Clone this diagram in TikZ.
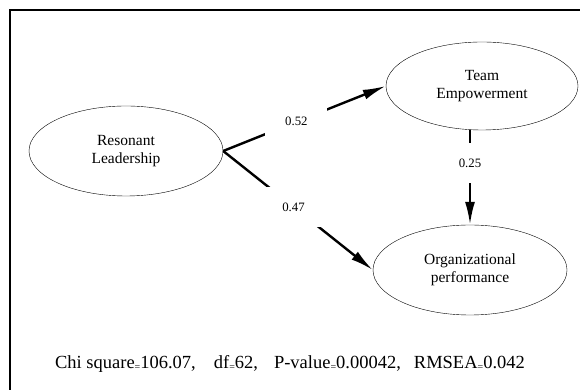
\documentclass[tikz,border=0pt]{standalone}
\usepackage[usenames, dvipsnames]{xcolor}
\usepackage{fontspec}
\setmainfont{Liberation Serif}
\usetikzlibrary{arrows.meta, shapes.geometric}
\newcommand{\smeq}{\raisebox{-0.25ex}{\fontsize{10}{10}\selectfont =}}

\begin{document}
\begin{tikzpicture}[x=1pt, y=1pt,
		construct/.style={draw, ellipse, thin, inner sep=0pt, align=center, font=\fontsize{15.5}{18}\selectfont},
		coef/.style={fill=White, inner sep=0pt, minimum width=62pt, minimum height=40pt, font=\fontsize{12.8}{14}\selectfont},
		path/.style={line width=2.4pt, -{Latex[length=23pt, width=10pt]}}]
		\useasboundingbox (0, 0) rectangle (580, 390);
		% The frame round the model [only its upper and left sides show]
		\draw [line width=1.4pt] (10, 0) -- (10, 380) -- (580, 380);
		% The three latent constructs
		\node [construct, minimum width=194pt, minimum height=90pt] (lead) at (126, 239) {Resonant\\Leadership};
		\node [construct, minimum width=192pt, minimum height=88pt] (team) at (482, 304) {Team\\Empowerment};
		\node [construct, minimum width=194pt, minimum height=90pt] (perf) at (470, 120) {Organizational\\performance};
		% Paths with their standardized coefficients
		\draw [path] (lead.east) -- node [coef, pos=0.45] (c52) {0.52} (team.west);
		\draw [path] (lead.east) -- node [coef, pos=0.47] (c47) {0.47} (perf.west);
		\draw [path] (team.south -| perf.north) -- node [coef, pos=0.35] (c25) {0.25} (perf.north);
		% Fit indices of the model
		\node [font=\fontsize{18.5}{20}\selectfont] (fit) at (290, 26) {Chi square\smeq106.07,\hspace{18pt}df\smeq62,\hspace{16pt}P-value\smeq0.00042,\hspace{13pt}RMSEA\smeq0.042};
	\end{tikzpicture}
\end{document}
